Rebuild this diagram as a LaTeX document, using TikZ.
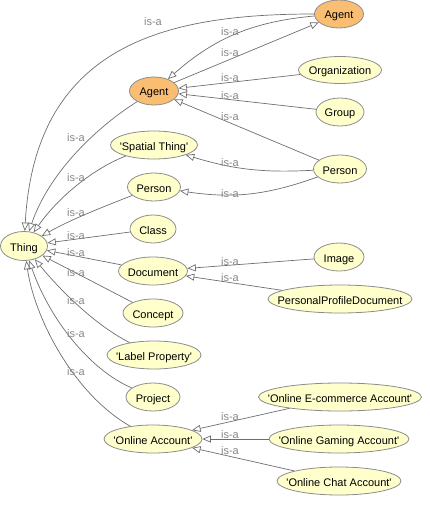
\documentclass[tikz,border=0pt]{standalone}
\usepackage{fontspec}
\setmainfont{Liberation Sans}
\usetikzlibrary{shapes.geometric,arrows.meta}
\definecolor{cyel}{RGB}{255,255,204}
\definecolor{corg}{RGB}{250,190,115}
\definecolor{cbord}{RGB}{140,140,140}
\definecolor{cedge}{RGB}{110,110,110}
\definecolor{clab}{RGB}{135,135,135}
\newcommand\zb[1]{\makebox[0pt]{#1}}
\newcommand\sq{\textquotesingle}
\begin{document}
\begin{tikzpicture}[x=1pt,y=-1pt,
  cls/.style={ellipse,draw=cbord,fill=cyel,line width=0.8pt,inner sep=0pt,
    minimum height=28pt,text height=10pt,text depth=0pt,
    font=\fontsize{11}{13}\selectfont},
  agentcls/.style={cls,fill=corg},
  isa/.style={-{Triangle[open,length=8.5pt,width=7pt]},draw=cedge,line width=0.7pt},
  lbl/.style={text=clab,font=\fontsize{11}{13}\selectfont,inner sep=0pt}]
\useasboundingbox (0,0) rectangle (430,505);

% nodes
\node[agentcls,minimum width=49pt] (agT) at (339,14) {\zb{Agent}};
\node[agentcls,minimum width=49pt] (agL) at (154,91) {\zb{Agent}};
\node[cls,minimum width=83pt,minimum height=27pt] (org) at (340,70) {\zb{Organization}};
\node[cls,minimum width=48pt] (grp) at (340,112) {\zb{Group}};
\node[cls,minimum width=53pt] (perR) at (340,169) {\zb{Person}};
\node[cls,minimum width=87pt] (spat) at (154,145) {\zb{\sq Spatial Thing\sq}};
\node[cls,minimum width=53pt] (perL) at (154,187) {\zb{Person}};
\node[cls,minimum width=46pt] (cls) at (153,229) {\zb{Class}};
\node[cls,minimum width=47pt,minimum height=29pt] (thing) at (24,246) {\zb{Thing}};
\node[cls,minimum width=69pt] (doc) at (153,271) {\zb{Document}};
\node[cls,minimum width=60pt] (con) at (153,313) {\zb{Concept}};
\node[cls,minimum width=94pt] (lab) at (154,355) {\zb{\sq Label Property\sq}};
\node[cls,minimum width=54pt] (proj) at (153,397) {\zb{Project}};
\node[cls,minimum width=98pt] (oa) at (153,439) {\zb{\sq Online Account\sq}};
\node[cls,minimum width=50pt] (img) at (339,257) {\zb{Image}};
\node[cls,minimum width=144pt] (ppd) at (340,299) {\zb{PersonalProfileDocument}};
\node[cls,minimum width=163pt] (ecom) at (340,397) {\zb{\sq Online E-commerce Account\sq}};
\node[cls,minimum width=140pt] (game) at (339,439) {\zb{\sq Online Gaming Account\sq}};
\node[cls,minimum width=124pt] (chat) at (339,481) {\zb{\sq Online Chat Account\sq}};

% edges to Thing
\draw[isa] (agT) .. controls (165,14) and (35,45) .. (thing);
\draw[isa] (agL) .. controls (100,125) and (50,170) .. (thing);
\draw[isa] (spat) .. controls (95,168) and (60,195) .. (thing);
\draw[isa] (perL) .. controls (100,208) and (70,220) .. (thing);
\draw[isa] (cls) -- (thing);
\draw[isa] (doc) -- (thing);
\draw[isa] (con) -- (thing);
\draw[isa] (lab) .. controls (95,325) and (60,290) .. (thing);
\draw[isa] (proj) .. controls (90,370) and (50,320) .. (thing);
\draw[isa] (oa) .. controls (75,395) and (35,320) .. (thing);

% right side edges
\draw[isa] (agT) to[bend right=18] (agL);
\draw[isa] (agL) -- (agT);
\draw[isa] (org) -- (agL);
\draw[isa] (grp) -- (agL);
\draw[isa] (perR) -- (agL);
\draw[isa] (perR) to[bend left=10] (spat);
\draw[isa] (perR) to[bend left=14] (perL);
\draw[isa] (img) -- (doc);
\draw[isa] (ppd) -- (doc);
\draw[isa] (ecom) -- (oa);
\draw[isa] (game) -- (oa);
\draw[isa] (chat) -- (oa);

% labels
\node[lbl] (l1) at (153,22) {is-a};
\node[lbl] (l2) at (76,138) {is-a};
\node[lbl] (l3) at (76,178) {is-a};
\node[lbl] (l4) at (76,213) {is-a};
\node[lbl] (l5) at (76,236) {is-a};
\node[lbl] (l6) at (76,253) {is-a};
\node[lbl] (l7) at (76,273) {is-a};
\node[lbl] (l8) at (76,301) {is-a};
\node[lbl] (l9) at (76,334) {is-a};
\node[lbl] (l10) at (76,372) {is-a};
\node[lbl] (r1) at (230,32) {is-a};
\node[lbl] (r2) at (230,53) {is-a};
\node[lbl] (r3) at (230,78) {is-a};
\node[lbl] (r4) at (230,96) {is-a};
\node[lbl] (r5) at (230,117) {is-a};
\node[lbl] (r6) at (230,163) {is-a};
\node[lbl] (r7) at (230,194) {is-a};
\node[lbl] (r8) at (230,262) {is-a};
\node[lbl] (r9) at (230,278) {is-a};
\node[lbl] (r10) at (230,417) {is-a};
\node[lbl] (r11) at (230,435) {is-a};
\node[lbl] (r12) at (230,451) {is-a};
\end{tikzpicture}
\end{document}
